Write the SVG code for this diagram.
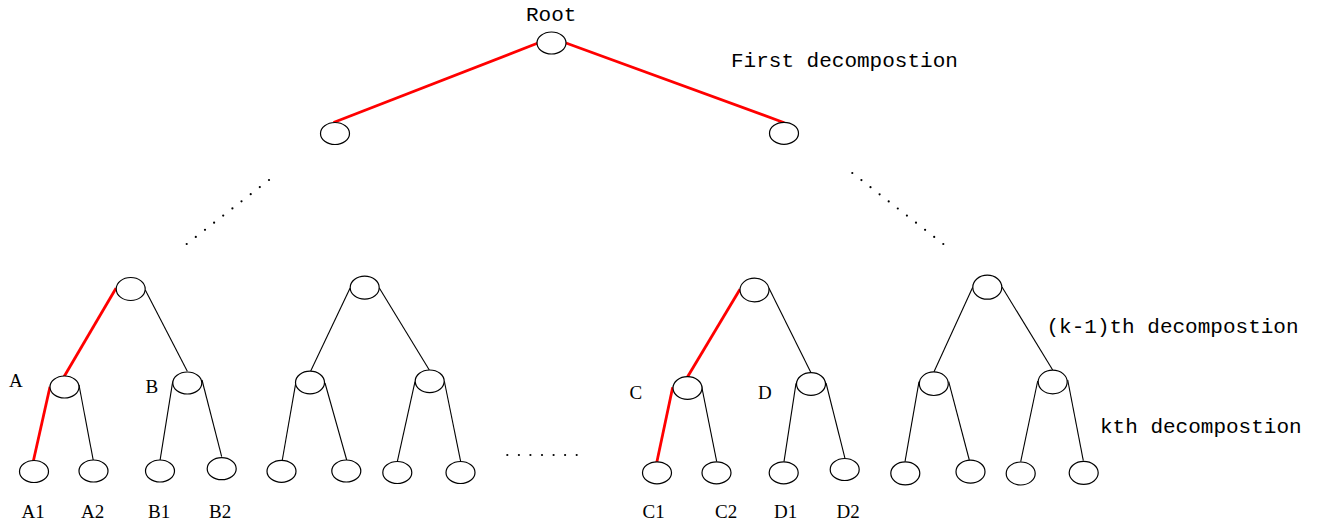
<svg xmlns="http://www.w3.org/2000/svg" width="1321" height="523" viewBox="0 0 1321 523">
<style>
.n{fill:#fff;stroke:#000;stroke-width:1.2}
.e{stroke:#000;stroke-width:1.1;fill:none}
.r{stroke:#f00;stroke-width:2.8;fill:none}
.m{font-family:"Liberation Mono",monospace;font-size:21px;fill:#000}
.s{font-family:"Liberation Serif",serif;font-size:19px;fill:#000}
.d{fill:#000}
</style>
<rect width="1321" height="523" fill="#fff"/>
<g id="connectors">
<line class="r" x1="538" y1="43" x2="333.5" y2="122.5"/>
<line class="r" x1="566" y1="43" x2="784.3" y2="122.7"/>
<line class="r" x1="116" y1="288.3" x2="64" y2="376.7"/>
<line class="r" x1="50" y1="386.7" x2="33.3" y2="461.3"/>
<line class="e" x1="145.3" y1="290" x2="187.3" y2="371.3"/>
<line class="e" x1="79" y1="385" x2="93.3" y2="460.7"/>
<line class="e" x1="172.7" y1="381.7" x2="160" y2="460.7"/>
<line class="e" x1="202" y1="380" x2="221.7" y2="456.7"/>
<line class="e" x1="350" y1="288.3" x2="310.7" y2="371"/>
<line class="e" x1="379.3" y1="288" x2="429.3" y2="370"/>
<line class="e" x1="295.7" y1="383.3" x2="282.3" y2="460"/>
<line class="e" x1="325" y1="383" x2="346.7" y2="460"/>
<line class="e" x1="415" y1="381.7" x2="397.3" y2="461.7"/>
<line class="e" x1="444.3" y1="381" x2="460.7" y2="461.7"/>
<line class="r" x1="740" y1="289.3" x2="687.3" y2="377.3"/>
<line class="r" x1="672.7" y1="387.3" x2="656.7" y2="462.7"/>
<line class="e" x1="769" y1="288.3" x2="811" y2="372.7"/>
<line class="e" x1="701.7" y1="386.7" x2="716.7" y2="461.7"/>
<line class="e" x1="796" y1="383.3" x2="784" y2="461.7"/>
<line class="e" x1="826" y1="383" x2="845" y2="458.3"/>
<line class="e" x1="972.7" y1="287.3" x2="934" y2="371.7"/>
<line class="e" x1="1002" y1="287" x2="1052.7" y2="370"/>
<line class="e" x1="919" y1="381.7" x2="905" y2="461.7"/>
<line class="e" x1="948.7" y1="381.7" x2="969.3" y2="460"/>
<line class="e" x1="1037.7" y1="381" x2="1020.7" y2="461.7"/>
<line class="e" x1="1067.7" y1="380" x2="1083.3" y2="460.7"/>
</g>
<g id="dots-left">
<circle class="d" cx="186.7" cy="244" r="1.1"/><circle class="d" cx="195.8" cy="236.9" r="1.1"/><circle class="d" cx="205" cy="229.8" r="1.1"/><circle class="d" cx="214.1" cy="222.7" r="1.1"/><circle class="d" cx="223.2" cy="215.6" r="1.1"/><circle class="d" cx="232.4" cy="208.4" r="1.1"/><circle class="d" cx="241.5" cy="201.3" r="1.1"/><circle class="d" cx="250.7" cy="194.2" r="1.1"/><circle class="d" cx="259.8" cy="187.1" r="1.1"/><circle class="d" cx="269" cy="180" r="1.1"/>
</g>
<g id="dots-right">
<circle class="d" cx="852.3" cy="173" r="1.1"/><circle class="d" cx="861.4" cy="180.1" r="1.1"/><circle class="d" cx="870.5" cy="187.2" r="1.1"/><circle class="d" cx="879.6" cy="194.3" r="1.1"/><circle class="d" cx="888.7" cy="201.4" r="1.1"/><circle class="d" cx="897.8" cy="208.5" r="1.1"/><circle class="d" cx="906.9" cy="215.6" r="1.1"/><circle class="d" cx="916" cy="222.7" r="1.1"/><circle class="d" cx="925.1" cy="229.8" r="1.1"/><circle class="d" cx="934.2" cy="236.9" r="1.1"/><circle class="d" cx="943.3" cy="244" r="1.1"/>
</g>
<g id="dots-bottom">
<circle class="d" cx="507.3" cy="455" r="1.1"/><circle class="d" cx="518.9" cy="455" r="1.1"/><circle class="d" cx="530.4" cy="455" r="1.1"/><circle class="d" cx="542" cy="455" r="1.1"/><circle class="d" cx="553.6" cy="455" r="1.1"/><circle class="d" cx="565.1" cy="455" r="1.1"/><circle class="d" cx="576.7" cy="455" r="1.1"/>
</g>
<g id="root"><ellipse class="n" cx="551.5" cy="43" rx="14.5" ry="11"/><text class="m" x="526" y="21">Root</text></g>
<g id="l2-left"><ellipse class="n" cx="335" cy="133.5" rx="14.5" ry="11"/></g>
<g id="l2-right"><ellipse class="n" cx="784" cy="133.3" rx="14.5" ry="11"/></g>
<g id="t1"><ellipse class="n" cx="130.7" cy="289" rx="14.5" ry="11.5"/></g>
<g id="nA"><ellipse class="n" cx="64.5" cy="387" rx="14.5" ry="11"/><text class="s" x="9" y="387">A</text></g>
<g id="nB"><ellipse class="n" cx="187.3" cy="383" rx="14.5" ry="11"/><text class="s" x="145.5" y="393">B</text></g>
<g id="nA1"><ellipse class="n" cx="34" cy="471.5" rx="14.5" ry="11"/><text class="s" x="21.5" y="518">A1</text></g>
<g id="nA2"><ellipse class="n" cx="93.5" cy="471" rx="14.5" ry="11"/><text class="s" x="81" y="518">A2</text></g>
<g id="nB1"><ellipse class="n" cx="160" cy="471" rx="14.5" ry="11"/><text class="s" x="148" y="518">B1</text></g>
<g id="nB2"><ellipse class="n" cx="221.7" cy="468.7" rx="14.5" ry="11"/><text class="s" x="209" y="518">B2</text></g>
<g id="t2"><ellipse class="n" cx="364.7" cy="287.7" rx="14.5" ry="11.5"/></g>
<g id="t2l"><ellipse class="n" cx="310" cy="382.5" rx="14.5" ry="11.3"/></g>
<g id="t2r"><ellipse class="n" cx="429.7" cy="381.3" rx="14.5" ry="11.3"/></g>
<g id="t2ll"><ellipse class="n" cx="281.5" cy="471.3" rx="14.5" ry="11"/></g>
<g id="t2lr"><ellipse class="n" cx="346.3" cy="471" rx="14.5" ry="11"/></g>
<g id="t2rl"><ellipse class="n" cx="397.3" cy="472.5" rx="14.5" ry="11"/></g>
<g id="t2rr"><ellipse class="n" cx="460.5" cy="472.5" rx="14.5" ry="11"/></g>
<g id="t3"><ellipse class="n" cx="754.5" cy="290" rx="14.5" ry="11.8"/></g>
<g id="nC"><ellipse class="n" cx="687.5" cy="388" rx="14.5" ry="11.3"/><text class="s" x="629.5" y="399">C</text></g>
<g id="nD"><ellipse class="n" cx="811" cy="384" rx="14.5" ry="11.3"/><text class="s" x="758" y="399">D</text></g>
<g id="nC1"><ellipse class="n" cx="657" cy="472.8" rx="14.5" ry="11"/><text class="s" x="642.5" y="518">C1</text></g>
<g id="nC2"><ellipse class="n" cx="716.5" cy="472.8" rx="14.5" ry="11"/><text class="s" x="715" y="518">C2</text></g>
<g id="nD1"><ellipse class="n" cx="783.7" cy="472.8" rx="14.5" ry="11"/><text class="s" x="774" y="518">D1</text></g>
<g id="nD2"><ellipse class="n" cx="844.7" cy="469.5" rx="14.5" ry="11"/><text class="s" x="836.5" y="518">D2</text></g>
<g id="t4"><ellipse class="n" cx="987.3" cy="287.2" rx="14.5" ry="12"/></g>
<g id="t4l"><ellipse class="n" cx="933.8" cy="383.7" rx="14.5" ry="11.8"/></g>
<g id="t4r"><ellipse class="n" cx="1052.7" cy="382" rx="14.5" ry="11.8"/></g>
<g id="t4ll"><ellipse class="n" cx="905.3" cy="473.3" rx="14.5" ry="11.5"/></g>
<g id="t4lr"><ellipse class="n" cx="970.5" cy="471.7" rx="14.5" ry="11.5"/></g>
<g id="t4rl"><ellipse class="n" cx="1020.7" cy="473.5" rx="14.5" ry="11.5"/></g>
<g id="t4rr"><ellipse class="n" cx="1083.7" cy="472.8" rx="14.5" ry="11.5"/></g>
<g id="labels">
<text class="m" x="731" y="66.5">First decompostion</text>
<text class="m" x="1046.5" y="333">(k-1)th decompostion</text>
<text class="m" x="1100" y="433">kth decompostion</text>
</g>
</svg>
